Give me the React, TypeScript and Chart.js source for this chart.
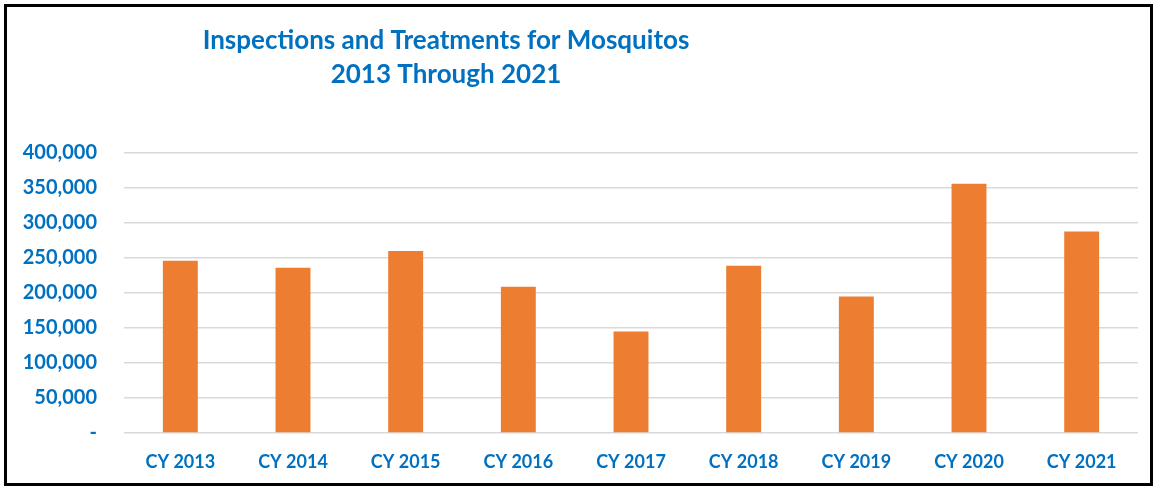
import React, { useEffect, useRef } from "react";
import { Chart, registerables } from "chart.js";

Chart.register(...registerables);

const categories = ["CY 2013", "CY 2014", "CY 2015", "CY 2016", "CY 2017", "CY 2018", "CY 2019", "CY 2020", "CY 2021"];
const values = [246000, 236000, 260000, 209000, 145000, 239000, 195000, 356000, 288000];
const titleLines = ["Inspections and Treatments for Mosquitos", "2013 Through 2021"];

const BLUE = "#0070C0";
const FONT = "Lato, 'Open Sans', sans-serif";

export default function App() {
  const ref = useRef<HTMLCanvasElement | null>(null);
  useEffect(() => {
    document.body.style.margin = "0";
    const titlePlugin = {
      id: "customTitle",
      afterDraw(chart: any) {
        const ctx = chart.ctx;
        ctx.save();
        ctx.fillStyle = BLUE;
        ctx.font = `bold 26px ${FONT}`;
        ctx.textAlign = "center";
        ctx.textBaseline = "middle";
        ctx.fillText(titleLines[0], 446, 41);
        ctx.fillText(titleLines[1], 446, 75);
        ctx.restore();
      },
    };
    const chart = new Chart(ref.current!, {
      type: "bar",
      data: {
        labels: categories,
        datasets: [
          {
            data: values,
            backgroundColor: "#ED7D31",
            borderWidth: 0,
            barPercentage: 0.31,
            categoryPercentage: 1,
          },
        ],
      },
      options: {
        animation: false,
        responsive: false,
        layout: { padding: { left: 0, right: 22, top: 153, bottom: 0 } },
        plugins: { legend: { display: false }, title: { display: false }, tooltip: { enabled: false } },
        scales: {
          x: {
            grid: { display: false, drawTicks: false },
            border: { display: false },
            ticks: { color: BLUE, font: { family: FONT, size: 18, weight: "bold" }, padding: 18 },
            afterFit: (s: any) => {
              s.height = 54;
            },
          },
          y: {
            min: 0,
            max: 400000,
            ticks: {
              stepSize: 50000,
              color: BLUE,
              padding: 27,
              font: { family: FONT, size: 20, weight: "bold" },
              callback: (v: any) => (v === 0 ? "-" : Number(v).toLocaleString("en-US")),
            },
            grid: { color: "#D9D9D9", lineWidth: 1.5, drawTicks: false },
            border: { display: false },
            afterFit: (s: any) => {
              s.width = 124;
            },
          },
        },
      },
      plugins: [titlePlugin],
    });
    return () => chart.destroy();
  }, []);
  return (
    <div style={{ position: "relative", width: 1160, height: 487, background: "#fff" }}>
      <canvas ref={ref} width={1160} height={487} style={{ position: "absolute", left: 0, top: 0 }} />
      <div
        style={{
          position: "absolute",
          left: 4,
          top: 4,
          width: 1153 - 4 - 6,
          height: 486 - 4 - 6,
          border: "3px solid #000",
          pointerEvents: "none",
        }}
      />
    </div>
  );
}
